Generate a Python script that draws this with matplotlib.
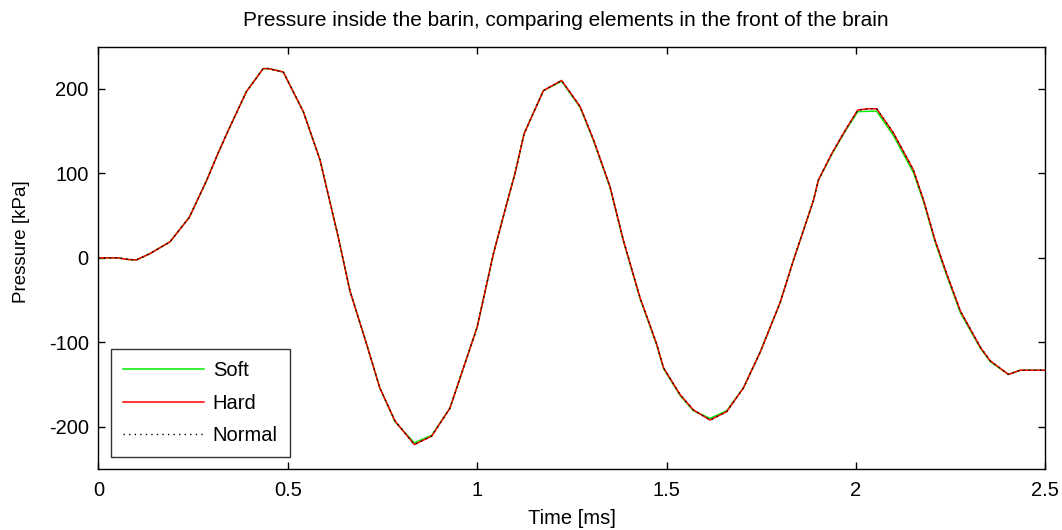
import matplotlib
matplotlib.use("Agg")
import matplotlib.pyplot as plt

plt.rcParams['font.family'] = ['Liberation Sans', 'DejaVu Sans']
plt.rcParams['axes.unicode_minus'] = False

time_ms = [0.000, 0.050, 0.080, 0.100, 0.136, 0.189, 0.240, 0.286, 0.316, 0.343,
           0.391, 0.435, 0.449, 0.488, 0.541, 0.585, 0.633, 0.664, 0.708, 0.743,
           0.783, 0.834, 0.880, 0.928, 0.964, 1.000, 1.043, 1.078, 1.100, 1.124,
           1.175, 1.223, 1.272, 1.307, 1.351, 1.386, 1.430, 1.474, 1.492, 1.536,
           1.571, 1.615, 1.659, 1.703, 1.747, 1.800, 1.835, 1.853, 1.888, 1.901,
           1.937, 1.972, 2.005, 2.033, 2.055, 2.099, 2.152, 2.179, 2.209, 2.240,
           2.276, 2.329, 2.355, 2.403, 2.434, 2.500]

hard = [0, 0, -2, -2.5, 5, 19, 48, 92, 124, 151,
        197, 224, 224, 220, 173, 116, 25, -39, -102, -154,
        -193, -221, -211, -178, -130, -82, 5, 64, 100, 147,
        198, 210, 179, 140, 84, 21, -47, -102, -130, -162,
        -180, -192, -182, -154, -112, -53, -3, 21, 68, 92,
        124, 151, 175, 176.5, 176.5, 148, 104, 68, 21, -19,
        -63, -106, -122, -138, -133, -133]

soft = [0, 0, -2, -2.5, 5, 19, 48, 92, 124, 151,
        197, 224, 224, 220, 173, 116, 25, -39, -102, -154,
        -194, -219, -210, -178, -130, -82, 5, 64, 100, 147,
        198, 209, 178, 139, 83, 20, -48, -103, -131, -163,
        -181, -190, -181, -154, -112, -53, -3, 21, 68, 92,
        123, 150, 173, 173.5, 173.5, 145, 101, 66, 19, -21,
        -65, -107, -123, -138, -133, -133]

normal = list(hard)

fig = plt.figure(figsize=(10.62, 5.30), dpi=100)
ax = fig.add_axes([0.0927, 0.115, 0.8915, 0.797])

ax.plot(time_ms, soft, color='#00ee00', lw=1.1, label='Soft')
ax.plot(time_ms, hard, color='#ff0000', lw=1.1, label='Hard')
ax.plot(time_ms, normal, color='black', lw=1.0, ls=(0, (1, 3)), label='Normal')

ax.set_xlim(0, 2.5)
ax.set_ylim(-250, 250)
ax.set_xticks([0, 0.5, 1, 1.5, 2, 2.5])
ax.set_xticklabels(['0', '0.5', '1', '1.5', '2', '2.5'])
ax.set_yticks([-200, -100, 0, 100, 200])
ax.tick_params(direction='in', top=True, right=True, length=5, width=1,
               labelsize=14.5)
ax.tick_params(axis='x', pad=8.5)
ax.tick_params(axis='y', pad=7)
for s in ax.spines.values():
    s.set_linewidth(1.0)

fig.text(0.5325, 1 - 20 / 530, 'Pressure inside the barin, comparing elements in the front of the brain',
         fontsize=15, ha='center', va='center')
fig.text(0.5385, 1 - 519 / 530, 'Time [ms]', fontsize=14.5, ha='center', va='center')
fig.text(22 / 1062, 1 - 242 / 530, 'Pressure [kPa]', fontsize=13.5, ha='center',
         va='center', rotation=90)

leg = ax.legend(loc='lower left', bbox_to_anchor=(0.0132, 0.0284), fontsize=14.5,
                handlelength=4.0, frameon=True, fancybox=False, borderaxespad=0,
                borderpad=0.6, labelspacing=0.66, handletextpad=0.45)
leg.get_frame().set_edgecolor('black')
leg.get_frame().set_linewidth(1.0)

fig.savefig('out.png', dpi=100)
